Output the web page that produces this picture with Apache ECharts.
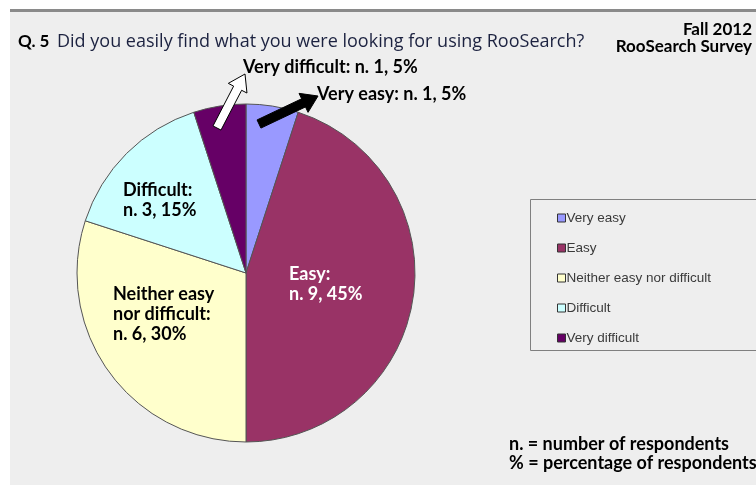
<!DOCTYPE html>
<html>
<head>
<meta charset="utf-8">
<script src="https://cdn.jsdelivr.net/npm/echarts@6/dist/echarts.min.js"></script>
<style>
  html, body { margin: 0; padding: 0; background: #fff; }
  #chart { width: 756px; height: 485px; }
</style>
</head>
<body>
<div id="chart"></div>
<script>
// survey answers, clockwise from 12 o'clock
const categories = ['Very easy', 'Easy', 'Neither easy nor difficult', 'Difficult', 'Very difficult']
const counts = [1, 9, 6, 3, 1]
const percents = [5, 45, 30, 15, 5]
const labelNames = ['Very easy', 'Easy', 'Neither easy\nnor difficult', 'Difficult', 'Very difficult']
const colors = ['#9999ff', '#993366', '#ffffcc', '#ccffff', '#660066']

const CX = 246, CY = 273, R = 169
// where each slice label sits (layout only)
const labelPos = [
  { x: 317, y: 94, color: '#000' },
  { x: 289, y: 284, color: '#fff' },
  { x: 113, y: 314, color: '#000' },
  { x: 123, y: 200, color: '#000' },
  { x: 243, y: 67, color: '#000' }
]

// block arrow polygon from (x1,y1) to tip (x2,y2)
function arrowPoints(x1, y1, x2, y2, shaft, head, headLen) {
  const dx = x2 - x1, dy = y2 - y1
  const len = Math.sqrt(dx * dx + dy * dy)
  const ux = dx / len, uy = dy / len
  const nx = -uy, ny = ux
  const bx = x2 - ux * headLen, by = y2 - uy * headLen
  return [
    [x1 + nx * shaft / 2, y1 + ny * shaft / 2],
    [bx + nx * shaft / 2, by + ny * shaft / 2],
    [bx + nx * head / 2, by + ny * head / 2],
    [x2, y2],
    [bx - nx * head / 2, by - ny * head / 2],
    [bx - nx * shaft / 2, by - ny * shaft / 2],
    [x1 - nx * shaft / 2, y1 - ny * shaft / 2]
  ]
}

const chart = echarts.init(document.getElementById('chart'))
chart.setOption({
  backgroundColor: '#fff',
  animation: false,
  legend: {
    orient: 'vertical',
    left: 552,
    top: 206,
    itemWidth: 8,
    itemHeight: 8,
    itemGap: 16,
    icon: 'rect',
    itemStyle: { borderColor: '#333', borderWidth: 1 },
    textStyle: { fontFamily: 'Liberation Sans', fontSize: 13.5, color: '#3a3a3a', padding: [0, 0, 0, -4] },
    data: categories
  },
  graphic: [
    { type: 'rect', z: -10, shape: { x: 10, y: 12, width: 746, height: 473 }, style: { fill: '#eeeeee' } },
    { type: 'rect', z: -9, shape: { x: 10, y: 9, width: 746, height: 3 }, style: { fill: '#8a8a8a' } },
    { type: 'rect', z: -5, shape: { x: 530.5, y: 199.5, width: 240, height: 151 }, style: { fill: 'none', stroke: '#7f7f7f', lineWidth: 1 } },
    { type: 'text', x: 18, y: 42, style: { text: 'Q. 5', font: 'bold 17px Lato', fill: '#000', verticalAlign: 'middle' } },
    { type: 'text', x: 57, y: 42, style: { text: 'Did you easily find what you were looking for using RooSearch?', font: '18px "Open Sans"', fill: '#1c2240', verticalAlign: 'middle' } },
    { type: 'text', x: 752, y: 30, style: { text: 'Fall 2012', font: 'bold 17px Lato', fill: '#000', align: 'right', verticalAlign: 'middle' } },
    { type: 'text', x: 752, y: 47, style: { text: 'RooSearch Survey', font: 'bold 17px Lato', fill: '#000', align: 'right', verticalAlign: 'middle' } },
    { type: 'text', x: 509, y: 444, style: { text: 'n. = number of respondents', font: 'bold 18px Lato', fill: '#000', verticalAlign: 'middle' } },
    { type: 'text', x: 509, y: 463, style: { text: '% = percentage of respondents', font: 'bold 18px Lato', fill: '#000', verticalAlign: 'middle' } },
    { type: 'polygon', z: 10, shape: { points: arrowPoints(217, 128, 245, 74, 9, 21, 16) }, style: { fill: '#fff', stroke: '#000', lineWidth: 1 } },
    { type: 'polygon', z: 10, shape: { points: arrowPoints(259, 124, 318, 96, 9, 21, 16) }, style: { fill: '#000', stroke: '#000', lineWidth: 1 } }
  ],
  series: [{
    type: 'pie',
    center: [CX, CY],
    radius: R,
    startAngle: 90,
    clockwise: true,
    silent: true,
    itemStyle: { borderColor: '#555', borderWidth: 1 },
    label: {
      show: true,
      position: 'inside',
      fontFamily: 'Lato',
      fontWeight: 'bold',
      fontSize: 18,
      lineHeight: 20,
      formatter: p => labelNames[p.dataIndex] + ':' + (p.dataIndex === 0 || p.dataIndex === 4 ? ' ' : '\n') + 'n. ' + counts[p.dataIndex] + ', ' + percents[p.dataIndex] + '%'
    },
    labelLine: { show: false },
    labelLayout: p => ({ x: labelPos[p.dataIndex].x, y: labelPos[p.dataIndex].y, align: 'left', verticalAlign: 'middle' }),
    data: categories.map((c, i) => ({
      name: c,
      value: counts[i],
      itemStyle: { color: colors[i] },
      label: { color: labelPos[i].color }
    }))
  }]
})
</script>
</body>
</html>
